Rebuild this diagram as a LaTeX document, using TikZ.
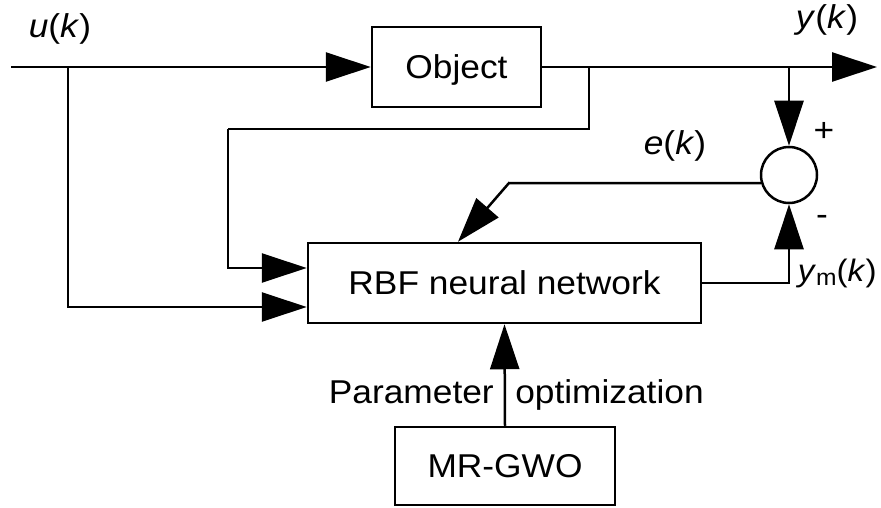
\documentclass[tikz,border=0pt]{standalone}
\usepackage{fontspec}
\setmainfont[FakeStretch=1.07]{Liberation Sans}
\usetikzlibrary{arrows.meta}
\begin{document}
\begin{tikzpicture}[x=1pt,y=-1pt,
  line width=2.5pt,
  every node/.style={font=\fontsize{33}{40}\selectfont},
  blk/.style={draw,rectangle,inner sep=0pt,text depth=0pt},
  arr/.style={-{Triangle[length=45pt,width=29pt]}},
  lbl/.style={inner sep=0pt}]
\useasboundingbox (0,0) rectangle (881,508);
% blocks
\node[blk,minimum width=169pt,minimum height=80pt] (obj) at (456.5,67) {Object};
\node[blk,minimum width=393pt,minimum height=80pt] (rbf) at (504.5,283) {RBF neural network};
\node[blk,minimum width=220pt,minimum height=78pt] (mr) at (505,466) {MR-GWO};
\node[draw,circle,minimum size=56pt,inner sep=0pt] (sum) at (789,175) {};
% coordinates
\coordinate (in) at (11,67);
\coordinate (out) at (877,67);
\coordinate (j1) at (68,67);
\coordinate (j2) at (589,67);
\coordinate (j3) at (789,67);
\coordinate (c1) at (228,129);
\coordinate (ebend) at (509,183);
% connectors
\draw[arr] (in) -- (obj.west);
\draw[arr] (obj.east) -- (out);
\draw[arr] (j1) |- ([yshift=-24pt]rbf.west);
\draw (j2) |- (c1);
\draw[arr] (c1) |- ([yshift=15pt]rbf.west);
\draw[arr] (j3) -- (sum.north);
\draw[arr] (rbf.east) -| (sum.south);
\draw[arr] (sum.196) -- (ebend) -- ([xshift=-46.5pt]rbf.north);
\draw[arr] (mr.north) -- (rbf.south);
% labels
\node[lbl] (uk) at (60,29) {\textit{u}(\textit{k})};
\node[lbl] (yk) at (827,20) {\textit{y}(\textit{k})};
\node[lbl] (ek) at (675,146) {\textit{e}(\textit{k})};
\node[lbl,anchor=east,font=\fontsize{31}{36}\selectfont] (ymk) at (878,273) {\textit{y}\raisebox{-4pt}{\fontsize{23}{26}\selectfont m}(\textit{k})};
\node[lbl] (plus) at (824,132) {+};
\node[lbl] (minus) at (822,220) {-};
\node[lbl,anchor=base east] (par) at (495,403) {Parameter};
\node[lbl,anchor=base west] (opt) at (514,403) {optimization};
\end{tikzpicture}
\end{document}
